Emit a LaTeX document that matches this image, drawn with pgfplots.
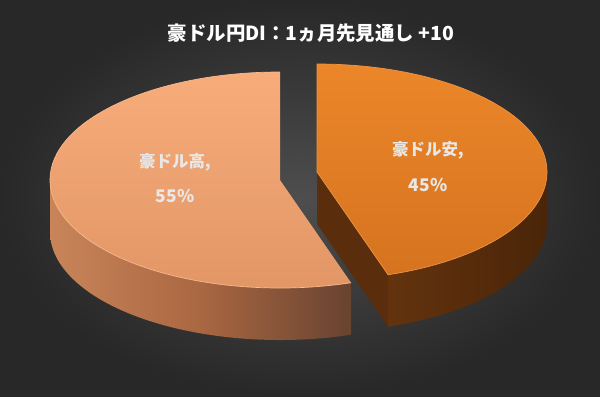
\documentclass[border=0pt]{standalone}
\usepackage{pgfplots}
\pgfplotsset{compat=1.18}
\usepackage{pgfplotstable}
\usepackage{fontspec}
\setmainfont{Noto Sans CJK JP}

\definecolor{bgout}{HTML}{282828}
\definecolor{bgin}{HTML}{4E4E4E}
\definecolor{ltop}{HTML}{F7AC7A}
\definecolor{lbot}{HTML}{E29666}
\definecolor{ledge}{HTML}{FAB98C}
\definecolor{lsideL}{HTML}{C98559}
\definecolor{lsideM}{HTML}{A96742}
\definecolor{lsideR}{HTML}{684330}
\definecolor{rtop}{HTML}{EB8629}
\definecolor{rbot}{HTML}{D6731F}
\definecolor{redge}{HTML}{EF9443}
\definecolor{rcut}{HTML}{5A2D0C}
\definecolor{rsideL}{HTML}{63330E}
\definecolor{rsideR}{HTML}{4A2509}
\definecolor{lbl}{HTML}{E8E8E8}

\pgfplotstableread{
name value
yasu 45
taka 55
}\piedata
\pgfplotstablegetelem{0}{value}\of\piedata \let\vA\pgfplotsretval
\pgfplotstablegetelem{1}{value}\of\piedata \let\vB\pgfplotsretval
\pgfmathsetmacro\aEnd{90-3.6*\vA}   % right slice: 90 -> aEnd (clockwise)
\pgfmathsetmacro\bEnd{90+3.6*\vB}   % left slice: 90 -> bEnd (counterclockwise)
% geometry (pixels)
\def\rx{230}\def\ry{108}\def\dep{52}
\def\lcx{280}\def\lcy{180}
\def\rcx{317}\def\rcy{172}
\pgfmathsetmacro\lox{\lcx+\rx*cos(\bEnd)}
\pgfmathsetmacro\loy{\lcy-\ry*sin(\bEnd)}
\pgfmathsetmacro\rox{\rcx+\rx*cos(\aEnd)}
\pgfmathsetmacro\roy{\rcy-\ry*sin(\aEnd)}
\pgfmathsetmacro\llx{\lcx-\rx}
\pgfmathsetmacro\ltopy{\lcy-\ry}
\pgfmathsetmacro\rtopy{\rcy-\ry}
\pgfmathsetmacro\rrx{\rcx+\rx}

\begin{document}
\begin{tikzpicture}
\begin{axis}[x=1bp,y=1bp,y dir=reverse,xmin=0,xmax=600,ymin=0,ymax=396,
  hide axis,clip=false]
\addplot[draw=none] coordinates {(0,0) (600,396)};
% background
\shade[inner color=bgin,outer color=bgout] (axis cs:0,0) rectangle (axis cs:600,396);
% ---- left slice (55%) ----
\shade[left color=lsideL,right color=lsideR,middle color=lsideM]
  (axis cs:\llx,\lcy) arc[start angle=180,end angle=\bEnd,x radius=\rx bp,y radius=\ry bp]
  -- ++(0,-\dep bp) arc[start angle=\bEnd,end angle=180,x radius=\rx bp,y radius=\ry bp] -- cycle;
\shade[top color=ltop,bottom color=lbot]
  (axis cs:\lcx,\lcy) -- (axis cs:\lcx,\ltopy)
  arc[start angle=90,end angle=\bEnd,x radius=\rx bp,y radius=\ry bp] -- cycle;
\draw[ledge,line width=0.7pt] (axis cs:\lcx,\ltopy)
  arc[start angle=90,end angle=\bEnd,x radius=\rx bp,y radius=\ry bp];
% ---- right slice (45%) ----
\fill[rcut] (axis cs:\rcx,\rcy) -- (axis cs:\rox,\roy) -- ++(0,-\dep bp)
  -- ([yshift=-\dep bp]axis cs:\rcx,\rcy) -- cycle;
\shade[left color=rsideL,right color=rsideR]
  (axis cs:\rox,\roy) arc[start angle=\aEnd,end angle=0,x radius=\rx bp,y radius=\ry bp]
  -- ++(0,-\dep bp) arc[start angle=0,end angle=\aEnd,x radius=\rx bp,y radius=\ry bp] -- cycle;
\shade[top color=rtop,bottom color=rbot]
  (axis cs:\rcx,\rcy) -- (axis cs:\rcx,\rtopy)
  arc[start angle=90,end angle=\aEnd,x radius=\rx bp,y radius=\ry bp] -- cycle;
\draw[redge,line width=0.7pt] (axis cs:\rox,\roy) -- (axis cs:\rcx,\rcy) -- (axis cs:\rcx,\rtopy)
  arc[start angle=90,end angle=\aEnd,x radius=\rx bp,y radius=\ry bp];
% labels
\node[text=lbl,font=\fontsize{16.5}{18}\selectfont\bfseries] at (axis cs:175,162) {豪ドル高,};
\node[text=lbl,font=\fontsize{17.5}{19}\selectfont\bfseries] at (axis cs:175,196) {\vB\%};
\node[text=lbl,font=\fontsize{16.5}{18}\selectfont\bfseries] at (axis cs:428,150) {豪ドル安,};
\node[text=lbl,font=\fontsize{17.5}{19}\selectfont\bfseries] at (axis cs:428,185) {\vA\%};
% title
\node[text=white,font=\fontsize{19.5}{21}\selectfont\bfseries] at (axis cs:311,33) {豪ドル円DI：1ヵ月先見通し +10};
\end{axis}
\end{tikzpicture}
\end{document}
